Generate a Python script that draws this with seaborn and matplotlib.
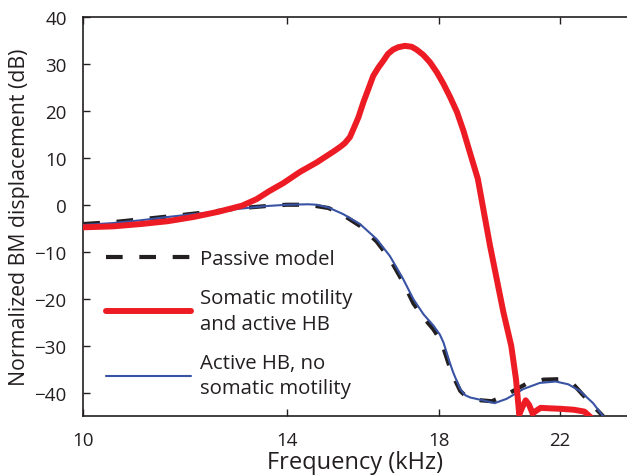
import numpy as np
import pandas as pd
import matplotlib
matplotlib.use("Agg")
import matplotlib.pyplot as plt
import seaborn as sns
from matplotlib.ticker import FixedLocator, FixedFormatter, NullLocator

# ---- data ----
red_f = [10.0, 10.5, 11.0, 11.5, 12.0, 12.5, 13.0, 13.32, 13.6, 13.92, 14.31, 14.71, 15.12, 15.29,
         15.41, 15.54, 15.63, 15.76, 15.89, 16.02, 16.15, 16.29, 16.42, 16.55, 16.69, 16.83,
         17.02, 17.21, 17.35, 17.54, 17.74, 17.94, 18.14, 18.34, 18.55, 18.75, 18.95, 19.20,
         19.59, 20.03, 20.29, 20.45, 20.56, 20.67, 20.78, 20.90, 21.02, 21.15, 21.3, 21.6,
         22.0, 22.5, 22.9, 23.2]
red_y = [-4.8, -4.6, -4.1, -3.5, -2.6, -1.5, -0.2, 1.2, 2.9, 4.6, 7.0, 9.0, 11.3, 12.3,
         13.1, 14.4, 16.1, 18.6, 21.8, 24.6, 27.4, 29.2, 30.6, 32.1, 33.0, 33.5,
         33.8, 33.6, 33.0, 31.9, 30.3, 28.2, 25.7, 22.9, 19.7, 15.7, 11.1, 5.5,
         -8.7, -22.9, -30.0, -37.1, -44.6, -43.0, -41.6, -42.6, -44.4, -43.8, -43.2, -43.3,
         -43.4, -43.6, -44.0, -45.5]

blue_f = [10.0, 10.5, 11.0, 11.5, 12.0, 12.5, 13.0, 13.5, 14.0, 14.5, 14.71, 15.0, 15.37, 15.80,
          16.24, 16.60, 16.97, 17.26, 17.55, 17.84, 18.03, 18.14, 18.33, 18.44, 18.65, 18.80,
          18.96, 19.36, 19.74, 20.13, 20.70, 21.27, 21.84, 22.3, 22.73, 23.23, 23.62]
blue_y = [-4.3, -3.9, -3.3, -2.6, -2.0, -1.4, -0.8, -0.3, 0.0, 0.1, 0.0, -0.6, -2.0, -4.1,
          -7.3, -10.9, -15.8, -20.1, -23.3, -25.7, -27.6, -29.3, -33.6, -35.8, -39.2, -40.5,
          -41.0, -41.6, -42.2, -41.3, -39.2, -37.9, -37.6, -38.2, -39.6, -42.2, -45.0]

pass_f = [10.0, 10.5, 11.0, 11.5, 12.0, 12.5, 13.0, 13.5, 14.0, 14.5, 15.0, 15.37, 15.80,
          16.24, 16.60, 16.97, 17.26, 17.55, 17.84, 18.03, 18.14, 18.33, 18.44, 18.65, 18.80,
          18.96, 19.30, 19.65, 20.10, 20.80, 21.40, 22.00, 22.50, 22.98, 23.62]
pass_y = [-4.1, -3.7, -3.1, -2.5, -1.9, -1.3, -0.7, -0.3, 0.0, 0.0, -0.7, -2.2, -4.5,
          -7.8, -11.5, -16.5, -21.0, -24.0, -26.5, -28.6, -30.5, -34.6, -36.6, -39.6, -40.6,
          -41.0, -41.6, -41.8, -40.5, -38.1, -37.2, -37.1, -38.3, -41.3, -45.0]

labels = ["Passive model", "Somatic motility\nand active HB", "Active HB, no\nsomatic motility"]
x_ticks = [10, 14, 18, 22]
y_ticks = [-40, -30, -20, -10, 0, 10, 20, 30, 40]

sns.set_style("ticks")
plt.rcParams["font.family"] = ["Open Sans", "DejaVu Sans"]

fig = plt.figure(figsize=(6.27, 4.77), dpi=100)
ax = fig.add_axes([83.3 / 627, 59.7 / 477, (627 - 83.3) / 627, (459.3 - 59.7) / 477])

df_p = pd.DataFrame({"f": pass_f, "y": pass_y})
df_b = pd.DataFrame({"f": blue_f, "y": blue_y})
df_r = pd.DataFrame({"f": red_f, "y": red_y})

sns.lineplot(data=df_p, x="f", y="y", ax=ax, color="#231F20", lw=3.0, label=labels[0],
             sort=False)
ax.lines[-1].set_dashes((4, 4))
sns.lineplot(data=df_r, x="f", y="y", ax=ax, color="#ED1C24", lw=4.3, label=labels[1],
             sort=False, zorder=4)
sns.lineplot(data=df_b, x="f", y="y", ax=ax, color="#3953A4", lw=1.5, label=labels[2],
             sort=False, zorder=3)
for ln in ax.lines:
    ln.set_solid_joinstyle("round")
    ln.set_dash_joinstyle("round")

ax.set_xscale("log")
ax.set_xlim(10, 24.57)
ax.set_ylim(-45, 40)
ax.xaxis.set_major_locator(FixedLocator(x_ticks))
ax.xaxis.set_major_formatter(FixedFormatter([str(t) for t in x_ticks]))
ax.xaxis.set_minor_locator(NullLocator())
ax.set_yticks(y_ticks)
ax.set_yticklabels([str(t).replace("-", "\u2212") for t in y_ticks])

ax.tick_params(direction="in", length=5, width=1, labelsize=13.5, colors="#231F20",
               top=True, right=False)
ax.tick_params(axis="y", pad=12)
ax.tick_params(axis="x", pad=10.5)
for s in ["left", "bottom", "top"]:
    ax.spines[s].set_linewidth(1.2)
    ax.spines[s].set_color("#231F20")
ax.spines["right"].set_visible(False)

ax.xaxis.set_label_coords(0.481, -0.085, transform=ax.transAxes)
ax.set_xlabel("Frequency (kHz)", fontsize=17, color="#231F20", va="top")
ax.set_ylabel("Normalized BM displacement (dB)", fontsize=15.3, color="#231F20", labelpad=3)

leg = ax.legend(loc="upper left", bbox_to_anchor=(0.0418, 0.419), frameon=False,
                borderaxespad=0, borderpad=0,
                fontsize=14.7, handlelength=4.15, handletextpad=0.45, labelspacing=0.95,
                labelcolor="#231F20")
for t in leg.get_texts():
    t.set_linespacing(1.35)
handles = leg.legend_handles
handles[0].set_dashes((4, 4))

fig.savefig("out.png", dpi=100)
